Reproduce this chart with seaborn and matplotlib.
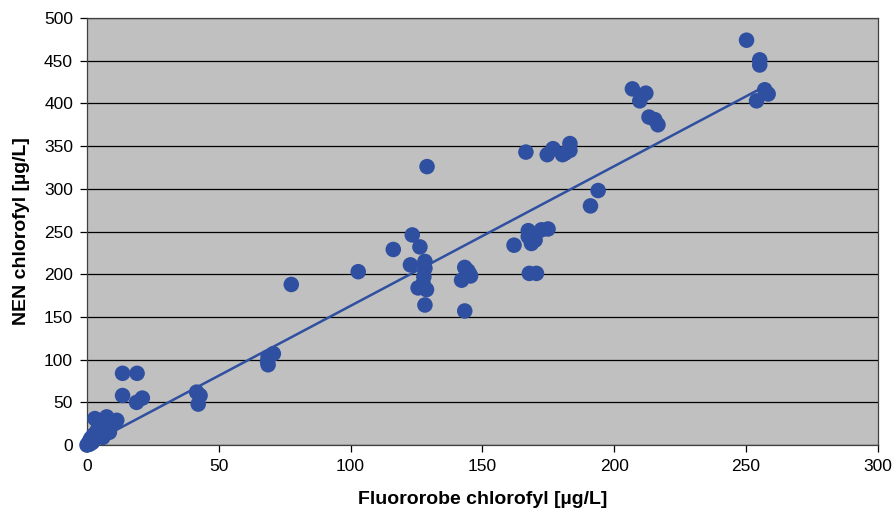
import numpy as np
import pandas as pd
import matplotlib
matplotlib.use("Agg")
import matplotlib.pyplot as plt
import seaborn as sns

# Fluororobe vs NEN chlorophyll measurements (µg/L)
fluororobe = [
    0.0, 0.5, 1.0, 1.5, 2.5, 4.0, 5.0, 6.0, 7.0, 8.5, 9.5, 10.0, 3.0, 7.5, 11.3, 2.0, 1.0, 5.0,
    13.5, 19.0, 13.5, 18.8, 21.0,
    41.6, 42.9, 42.2,
    68.7, 70.7, 68.7, 68.5,
    77.5, 102.9,
    116.2, 123.4, 126.3, 122.7, 128.2, 128.2, 127.8, 127.5, 125.6, 128.8, 128.2, 129.0, 127.0,
    143.3, 145.2, 142.1, 143.3, 144.5, 145.5,
    162.0, 167.4, 169.3, 174.9, 172.4, 168.6, 167.4, 167.8, 170.5, 170.0,
    166.5, 174.6, 176.8, 180.4, 183.2, 183.2, 181.5,
    193.9, 191.0,
    206.9, 212.0, 209.7, 213.2, 216.6, 215.4,
    250.2, 255.2, 255.2, 257.1, 258.4, 254.0,
]
nen = [
    0, 2, 5, 8, 12, 18, 20, 9, 23, 15, 25, 27, 31, 33, 29, 3, 1, 13,
    84, 84, 58, 50, 55,
    62, 58, 48,
    103, 107, 94, 98,
    188, 203,
    229, 246, 232, 211, 215, 207, 197, 189, 184, 182, 164, 326, 186,
    208, 200, 193, 157, 204, 198,
    234, 251, 246, 253, 252, 236, 244, 201, 201, 240,
    343, 340, 347, 340, 353, 345, 342,
    298, 280,
    417, 412, 403, 384, 375, 381,
    474, 451, 445, 416, 411, 403,
]

# Linear trend line coefficients (NEN = slope * Fluororobe + intercept)
trend_slope = 1.635
trend_intercept = -0.5

x_ticks = [0, 50, 100, 150, 200, 250, 300]
y_ticks = [0, 50, 100, 150, 200, 250, 300, 350, 400, 450, 500]
x_label = "Fluororobe chlorofyl [µg/L]"
y_label = "NEN chlorofyl [µg/L]"

df = pd.DataFrame({"fluororobe": fluororobe, "nen": nen})

# Trend line spans the measured Fluororobe range
trend = pd.DataFrame({"fluororobe": [df["fluororobe"].min(), df["fluororobe"].max()]})
trend["nen"] = trend_slope * trend["fluororobe"] + trend_intercept

sns.set_style("white")
plt.rcParams["font.family"] = ["Liberation Sans", "DejaVu Sans"]
plt.rcParams["text.color"] = "black"
plt.rcParams["axes.labelcolor"] = "black"
plt.rcParams["xtick.color"] = "black"
plt.rcParams["ytick.color"] = "black"

blue = "#2F4FA0"
fig = plt.figure(figsize=(8.93, 5.23), dpi=100)
ax = fig.add_axes([0.0974, 0.149, 0.8856, 0.8166])
ax.set_facecolor("#C0C0C0")

for yt in y_ticks:
    ax.axhline(yt, color="black", lw=0.9, zorder=1)

sns.scatterplot(data=df, x="fluororobe", y="nen", ax=ax, color=blue, s=125,
                edgecolor="none", linewidth=0, zorder=3, clip_on=False)
sns.lineplot(data=trend, x="fluororobe", y="nen", ax=ax, color=blue, lw=1.8,
             zorder=4, sort=False)

ax.set_xlim(0, 300)
ax.set_ylim(0, 500)
ax.set_xticks(x_ticks)
ax.set_yticks(y_ticks)
ax.tick_params(axis="both", direction="out", length=5, width=0.9, color="black",
               labelsize=12.5, pad=5, bottom=True, left=True)
for side in ["left", "bottom", "top", "right"]:
    ax.spines[side].set_color("#404040")
    ax.spines[side].set_linewidth(0.9)

ax.set_xlabel(x_label, fontsize=14, fontweight="bold", labelpad=12)
ax.set_ylabel(y_label, fontsize=14, fontweight="bold", labelpad=10)

fig.savefig("out.png", dpi=100)
